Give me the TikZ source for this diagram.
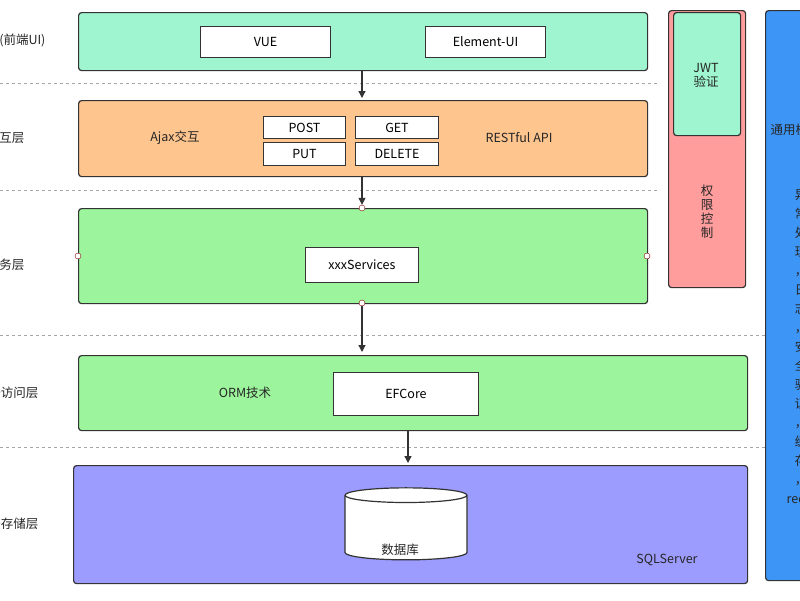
\documentclass[tikz,border=0pt]{standalone}
\usepackage{fontspec}
\setmainfont{Noto Sans CJK SC}
\usetikzlibrary{shapes.geometric,arrows.meta}
\definecolor{mint}{HTML}{9EF5CF}
\definecolor{org}{HTML}{FFC58F}
\definecolor{grn}{HTML}{9CF59C}
\definecolor{pur}{HTML}{9C9CFF}
\definecolor{sal}{HTML}{FF9C9C}
\definecolor{blu}{HTML}{3D95F5}
\definecolor{edge}{HTML}{333333}
\tikzset{
 layer/.style={draw=edge,line width=1.2pt,rounded corners=3pt,anchor=north west},
 wbox/.style={draw=edge,line width=1pt,fill=white,anchor=north west,font=\fontsize{12.5}{14}\selectfont},
 lbl/.style={font=\fontsize{12.5}{14}\selectfont,text=black!85},
 sep/.style={draw=gray!70,dashed,line width=0.8pt},
 arr/.style={-{Triangle[length=7pt,width=7pt]},line width=1.3pt,draw=edge},
 port/.style={circle,draw=red!50!black,fill=white,inner sep=0pt,minimum size=6pt}
}
\begin{document}
\begin{tikzpicture}[x=1pt,y=-1pt]
\useasboundingbox (0,0) rectangle (800,600);
\clip (0,0) rectangle (800,600);
\fill[white] (0,0) rectangle (800,600);
% separators
\draw[sep] (0,83) -- (660,83);
\draw[sep] (0,190) -- (660,190);
\draw[sep] (0,335) -- (765,335);
\draw[sep] (0,447) -- (765,447);
% left labels (cropped)
\node[lbl,anchor=east] (l1) at (49,40) {表现层(前端UI)};
\node[lbl,anchor=east] (l2) at (28,138) {交互层};
\node[lbl,anchor=east] (l3) at (28,265) {服务层};
\node[lbl,anchor=east] (l4) at (42,393) {数据访问层};
\node[lbl,anchor=east] (l5) at (42,524) {数据存储层};
% row 1
\node[layer,fill=mint,minimum width=569,minimum height=58] (r1) at (78,12) {};
\node[wbox,minimum width=130,minimum height=31] (vue) at (200,26) {VUE};
\node[wbox,minimum width=120,minimum height=31] (eui) at (425,26) {Element-UI};
% row 2
\node[layer,fill=org,minimum width=569,minimum height=76] (r2) at (78,100) {};
\node[lbl] (ajax) at (175,138) {Ajax交互};
\node[wbox,minimum width=82,minimum height=22] (post) at (263,116) {POST};
\node[wbox,minimum width=82,minimum height=23] (put) at (263,142) {PUT};
\node[wbox,minimum width=83,minimum height=22] (get) at (355,116) {GET};
\node[wbox,minimum width=83,minimum height=23] (del) at (355,142) {DELETE};
\node[lbl] (rest) at (519,138) {RESTful API};
% row 3
\node[layer,fill=grn,minimum width=569,minimum height=95] (r3) at (78,208) {};
\node[wbox,minimum width=113,minimum height=35] (svc) at (305,247) {xxxServices};
\node[port] (p1) at (78,256) {};
\node[port] (p2) at (647,256) {};
\node[port] (p3) at (362,208) {};
\node[port] (p4) at (362,303) {};
% row 4
\node[layer,fill=grn,minimum width=669,minimum height=75] (r4) at (78,355) {};
\node[lbl] (orm) at (245,393) {ORM技术};
\node[wbox,minimum width=145,minimum height=43] (ef) at (333,372) {EFCore};
% row 5
\node[layer,fill=pur,minimum width=674,minimum height=118] (r5) at (73,465) {};
\node[cylinder,shape border rotate=90,draw=edge,line width=1.2pt,fill=white,minimum width=122,minimum height=72,aspect=2.2] (db) at (406,529) {};
\node[lbl] (dbt) at (400,550) {数据库};
\node[lbl] (sql) at (667,560) {SQLServer};
% arrows
\coordinate (a1) at (362,70);
\coordinate (a2) at (362,176);
\draw[arr] (a1) -- (362,98);
\draw[arr] (a2) -- (p3);
\draw[arr] (p4) -- (362,352);
\coordinate (a4) at (408,430);
\draw[arr] (a4) -- (408,463);
% auth column
\node[layer,fill=sal,minimum width=77,minimum height=277] (auth) at (668,10) {};
\node[layer,fill=mint,minimum width=67,minimum height=123] (jwt) at (673,12) {};
\node[lbl,align=center] (jwtt) at (706,75) {JWT\\验证};
\node[lbl,align=center] (qx) at (707,212) {权\\限\\控\\制};
% right blue column
\node[layer,fill=blu,minimum width=70,minimum height=570] (gen) at (765,10) {};
\node[lbl,anchor=west] (ty) at (767,130) {通用模块};
\node[lbl,align=center,anchor=north,font=\fontsize{12.5}{19}\selectfont] (col) at (801,186) {异\\常\\处\\理\\，\\日\\志\\，\\安\\全\\验\\证\\，\\缓\\存\\，\\redis};
\end{tikzpicture}
\end{document}
